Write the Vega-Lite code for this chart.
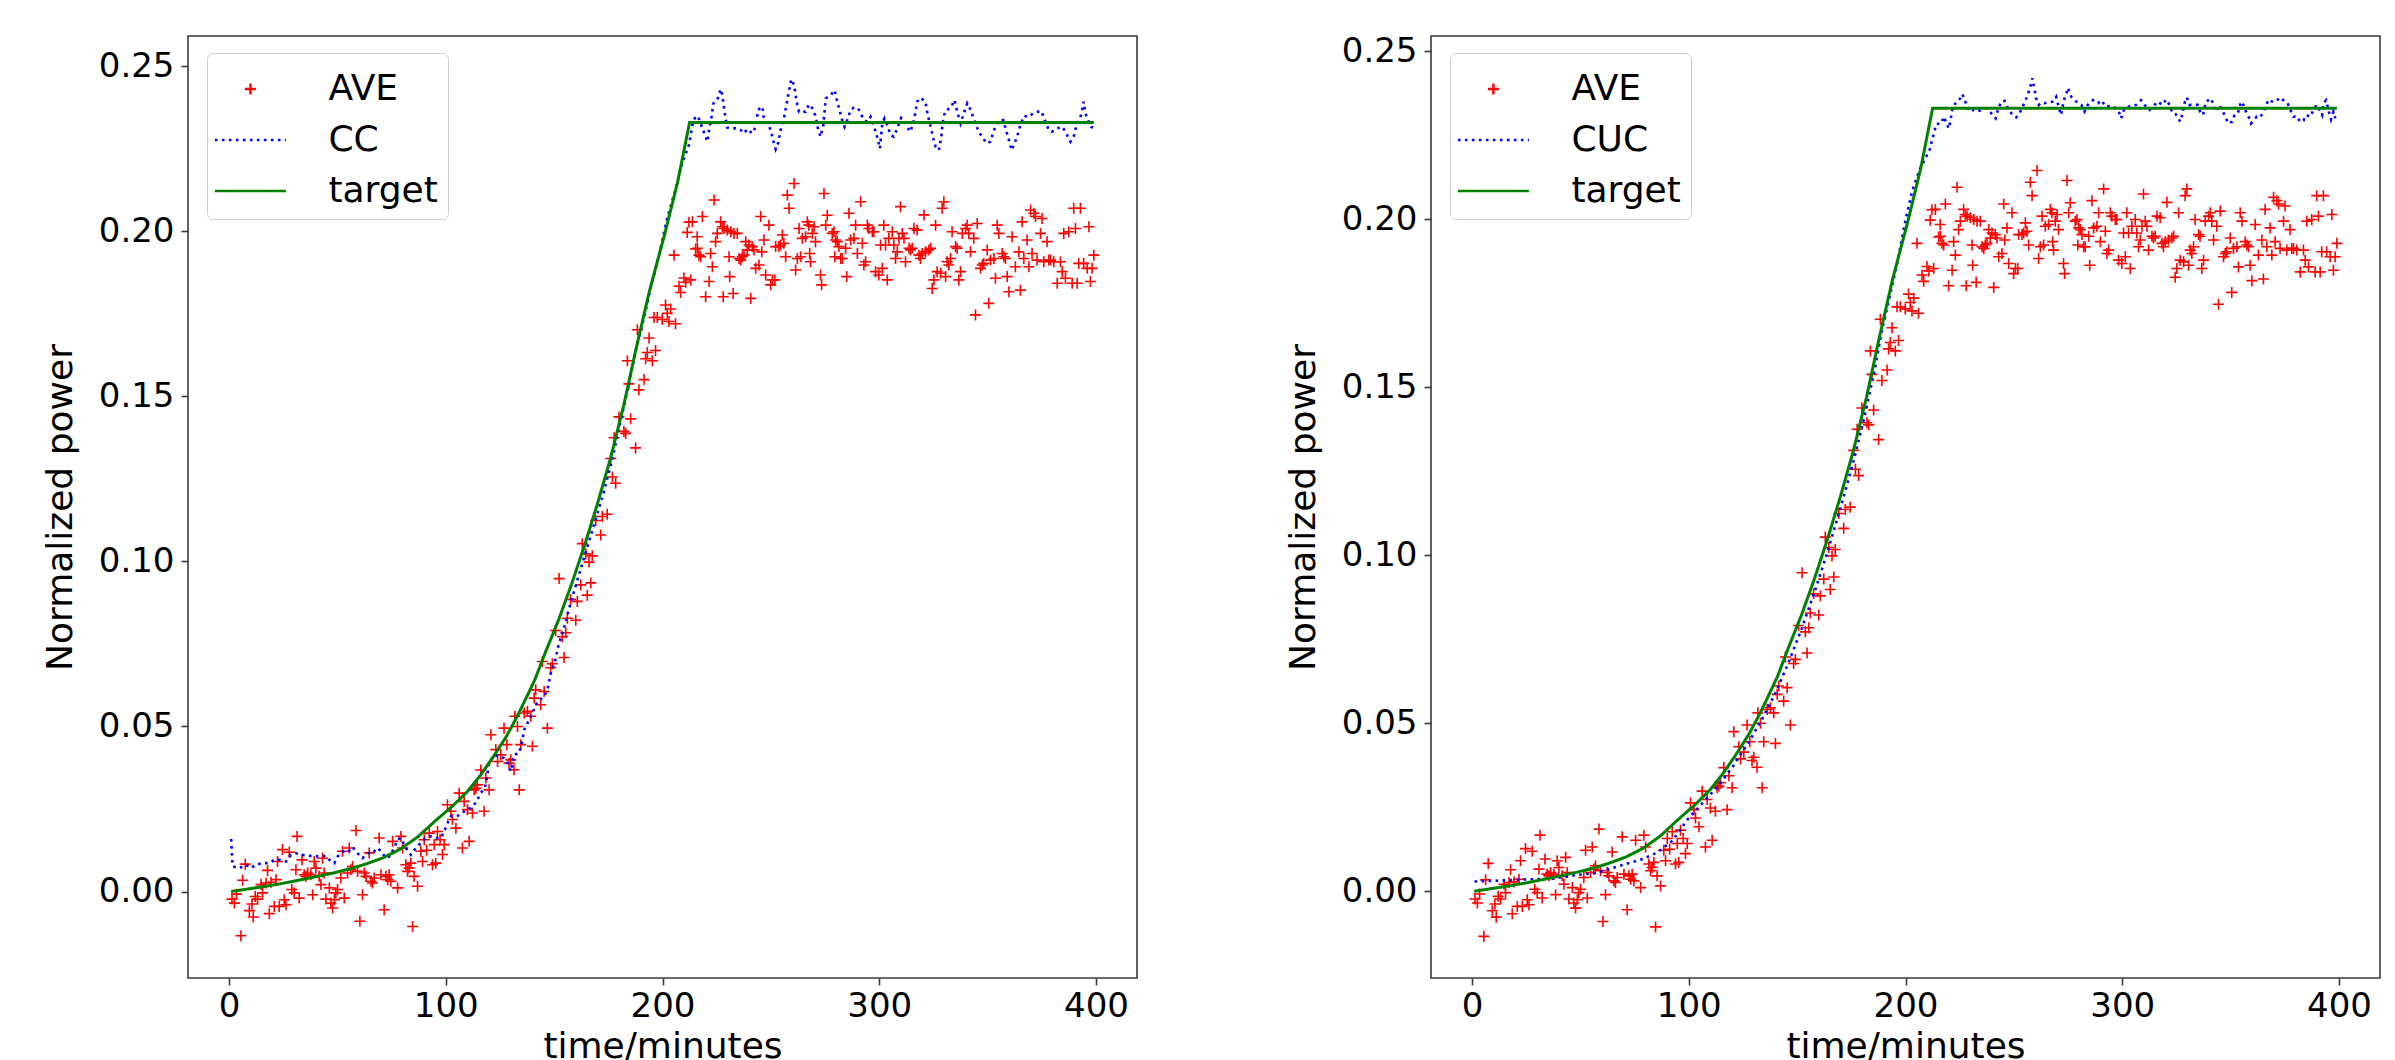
{
"$schema": "https://vega.github.io/schema/vega-lite/v6.json",
"background": "white",
"padding": {"left": 41, "top": 33, "right": 5, "bottom": 0},
"spacing": 146,
"config": {
 "font": "DejaVu Sans",
 "view": {"stroke": "#3a3a3a", "strokeWidth": 1.6},
 "axis": {"grid": false, "domain": false, "tickColor": "#3a3a3a", "tickSize": 7, "tickWidth": 1.6, "labelFont": "DejaVu Sans", "labelFontSize": 34, "labelColor": "black", "labelFlush": false, "labelOverlap": false, "titleFont": "DejaVu Sans", "titleFontSize": 36, "titleFontWeight": "normal", "titleColor": "black"},
 "axisX": {"labelPadding": 4, "titlePadding": 6},
 "axisY": {"labelPadding": 7, "titlePadding": 19},
 "legend": {"orient": "none", "legendX": 19, "legendY": 17, "title": null, "symbolSize": 2500, "symbolStrokeWidth": 2.4, "symbolOffset": 7.4, "labelOffset": 51.5, "labelFont": "DejaVu Sans", "labelFontSize": 36, "labelColor": "black", "rowPadding": 6, "padding": 9.5, "strokeColor": "#cccccc", "fillColor": "white", "cornerRadius": 6, "symbolOpacity": 1}
},
"datasets": {
 "ave": [
{"t":1.4,"v":-0.0023},{"t":2.5,"v":-0.0035},{"t":3.5,"v":-0.0008},{"t":5.5,"v":-0.0134},{"t":6.3,"v":0.0034},{"t":7.5,"v":0.0083},{"t":9.4,"v":-0.0058},{"t":10.6,"v":-0.0038},{"t":11.2,"v":-0.0077},{"t":12.1,"v":-0.0015},{"t":13.2,"v":-0.0023},{"t":14.8,"v":0.0021},{"t":15.5,"v":-0.0004},{"t":17.1,"v":0.0026},{"t":17.8,"v":0.0064},{"t":18.6,"v":-0.0067},{"t":19.4,"v":0.0028},{"t":20.9,"v":-0.0045},{"t":21.7,"v":0.0036},{"t":22.4,"v":0.0091},{"t":23.2,"v":-0.0045},{"t":24.7,"v":0.0127},{"t":25.5,"v":-0.0025},{"t":26.3,"v":-0.004},{"t":27.8,"v":0.0119},{"t":29.0,"v":0.0006},{"t":30.1,"v":-0.0004},{"t":30.9,"v":0.0066},{"t":31.4,"v":0.0167},{"t":32.4,"v":-0.002},{"t":33.7,"v":0.0096},{"t":34.7,"v":0.0051},{"t":35.5,"v":0.0046},{"t":36.3,"v":0.0056},{"t":37.8,"v":0.0051},{"t":38.6,"v":-0.001},{"t":39.3,"v":0.0091},{"t":40.1,"v":0.0071},{"t":41.6,"v":0.0046},{"t":42.4,"v":0.0021},{"t":43.2,"v":0.0101},{"t":43.9,"v":0.0056},{"t":44.7,"v":-0.0023},{"t":46.3,"v":0.0011},{"t":47.0,"v":-0.0035},{"t":47.8,"v":-0.005},{"t":48.6,"v":-0.0025},{"t":49.3,"v":-0.0004},{"t":50.1,"v":0.0006},{"t":51.6,"v":0.0041},{"t":52.4,"v":0.0122},{"t":53.2,"v":-0.002},{"t":54.7,"v":0.0056},{"t":55.5,"v":0.0132},{"t":56.2,"v":0.0066},{"t":57.0,"v":0.0076},{"t":58.6,"v":0.0185},{"t":59.3,"v":0.0061},{"t":60.4,"v":-0.009},{"t":61.6,"v":-0.001},{"t":62.4,"v":0.0056},{"t":63.2,"v":0.0046},{"t":64.7,"v":0.0117},{"t":65.5,"v":0.0031},{"t":66.2,"v":0.0026},{"t":67.0,"v":0.0041},{"t":69.3,"v":0.0162},{"t":70.1,"v":0.0051},{"t":71.6,"v":-0.0055},{"t":72.4,"v":0.0046},{"t":73.2,"v":0.0036},{"t":73.9,"v":0.0051},{"t":74.7,"v":0.0031},{"t":75.5,"v":0.0152},{"t":77.8,"v":0.0011},{"t":79.3,"v":0.0167},{"t":80.1,"v":0.0132},{"t":81.6,"v":0.0081},{"t":82.4,"v":0.0061},{"t":83.1,"v":0.0071},{"t":83.9,"v":0.0086},{"t":84.7,"v":-0.0106},{"t":85.4,"v":0.0046},
{"t":87.0,"v":0.0016},{"t":88.5,"v":0.0122},{"t":89.3,"v":0.0091},{"t":90.1,"v":0.0157},{"t":91.2,"v":0.0125},{"t":92.4,"v":0.0177},{"t":93.9,"v":0.0081},{"t":94.7,"v":0.0142},{"t":95.4,"v":0.0086},{"t":96.2,"v":0.0182},{"t":97.4,"v":0.0157},{"t":98.5,"v":0.0112},{"t":99.3,"v":0.0142},{"t":100.8,"v":0.0263},{"t":102.4,"v":0.0243},{"t":103.1,"v":0.0218},{"t":104.7,"v":0.0192},{"t":106.2,"v":0.0298},{"t":107.7,"v":0.0132},{"t":108.5,"v":0.0273},{"t":110.0,"v":0.0248},{"t":110.8,"v":0.0152},{"t":112.3,"v":0.0238},{"t":113.1,"v":0.0308},{"t":113.9,"v":0.0313},{"t":114.6,"v":0.0323},{"t":116.2,"v":0.0368},{"t":117.7,"v":0.0243},{"t":118.5,"v":0.0344},{"t":120.0,"v":0.0308},{"t":120.8,"v":0.0475},{"t":123.1,"v":0.043},{"t":123.9,"v":0.0394},{"t":125.4,"v":0.0414},{"t":126.9,"v":0.0495},{"t":128.2,"v":0.0445},{"t":129.2,"v":0.0389},{"t":130.0,"v":0.0399},{"t":131.5,"v":0.0369},{"t":131.9,"v":0.0531},{"t":133.1,"v":0.05},{"t":133.9,"v":0.0308},{"t":134.6,"v":0.0445},{"t":136.2,"v":0.0541},{"t":137.7,"v":0.0546},{"t":139.2,"v":0.0531},{"t":140.0,"v":0.044},{"t":140.8,"v":0.0586},{"t":141.5,"v":0.0611},{"t":143.8,"v":0.0566},{"t":145.4,"v":0.0606},{"t":146.9,"v":0.0495},
{"t":144.6,"v":0.0697},{"t":148.4,"v":0.0678},{"t":149.2,"v":0.069},{"t":154.6,"v":0.0709},{"t":150.7,"v":0.0791},{"t":153.8,"v":0.0772},{"t":155.4,"v":0.0784},{"t":157.6,"v":0.0885},{"t":160.7,"v":0.0879},{"t":160.0,"v":0.0822},{"t":156.1,"v":0.0828},{"t":152.3,"v":0.0948},{"t":162.3,"v":0.0929},{"t":166.9,"v":0.0935},{"t":165.3,"v":0.0898},{"t":163.0,"v":0.1054},{"t":167.6,"v":0.1017},{"t":166.1,"v":0.0998},{"t":164.6,"v":0.1023},{"t":171.5,"v":0.108},{"t":169.2,"v":0.1124},{"t":174.5,"v":0.1143},{"t":172.2,"v":0.1136},{"t":176.9,"v":0.1256},{"t":178.4,"v":0.1237},{"t":176.1,"v":0.1312},{"t":182.2,"v":0.1394},{"t":183.0,"v":0.1388},{"t":187.6,"v":0.1344},{"t":177.7,"v":0.1375},{"t":185.3,"v":0.1432},{"t":179.9,"v":0.1438},{"t":183.8,"v":0.1608},{"t":189.1,"v":0.152},{"t":184.5,"v":0.1538},{"t":191.5,"v":0.1551},{"t":188.4,"v":0.1702},{"t":193.8,"v":0.1677},{"t":192.2,"v":0.1614},{"t":195.3,"v":0.1608},{"t":196.8,"v":0.1639},{"t":193.0,"v":0.1633},{"t":197.6,"v":0.1739},{"t":199.9,"v":0.1733},{"t":203.0,"v":0.1727},{"t":206.0,"v":0.172},{"t":203.8,"v":0.1765},{"t":201.4,"v":0.1777},{"t":202.2,"v":0.1752},{"t":196.1,"v":0.1739},{"t":208.4,"v":0.1815},{"t":210.7,"v":0.1846},{"t":209.9,"v":0.1859},{"t":207.6,"v":0.1834},{"t":205.3,"v":0.1928},{"t":212.2,"v":0.2028},{"t":211.4,"v":0.1997},{"t":215.3,"v":0.1947},{"t":216.0,"v":0.1984},{"t":216.8,"v":0.1928},
{"t":213.8,"v":0.2029},{"t":213.0,"v":0.1853},{"t":216.1,"v":0.1949},{"t":218.4,"v":0.2045},{"t":217.6,"v":0.1923},{"t":223.8,"v":0.2095},{"t":222.2,"v":0.1933},{"t":221.5,"v":0.1848},{"t":219.9,"v":0.1802},{"t":223.0,"v":0.1893},{"t":224.5,"v":0.1969},{"t":225.3,"v":0.1994},{"t":226.8,"v":0.2029},{"t":227.6,"v":0.2014},{"t":228.4,"v":0.2009},{"t":229.9,"v":0.2004},{"t":231.5,"v":0.1999},{"t":233.0,"v":0.1994},{"t":234.5,"v":0.1994},{"t":228.0,"v":0.1802},{"t":232.6,"v":0.1812},{"t":231.0,"v":0.1863},{"t":230.7,"v":0.1923},{"t":235.3,"v":0.1918},{"t":236.8,"v":0.1923},{"t":237.6,"v":0.1928},{"t":236.1,"v":0.1913},{"t":238.4,"v":0.1969},{"t":239.9,"v":0.1959},{"t":241.4,"v":0.1954},{"t":242.2,"v":0.1944},{"t":239.1,"v":0.1944},{"t":240.7,"v":0.1797},{"t":243.0,"v":0.1888},{"t":244.5,"v":0.1898},{"t":245.3,"v":0.2045},{"t":246.8,"v":0.1974},{"t":247.6,"v":0.1868},{"t":249.1,"v":0.2019},{"t":249.9,"v":0.1838},{"t":250.7,"v":0.1853},{"t":251.8,"v":0.1853},{"t":245.8,"v":0.1938},{"t":252.2,"v":0.1954},{"t":253.7,"v":0.1954},{"t":255.3,"v":0.1989},{"t":256.8,"v":0.1923},{"t":256.0,"v":0.1964},{"t":254.5,"v":0.1959},{"t":257.6,"v":0.211},{"t":258.4,"v":0.207},{"t":260.7,"v":0.2145},{"t":261.4,"v":0.1883},{"t":262.2,"v":0.1918},{"t":263.0,"v":0.2009},{"t":263.7,"v":0.1923},{"t":264.5,"v":0.1979},{"t":266.0,"v":0.1984},{"t":266.8,"v":0.2029},{"t":267.5,"v":0.2019},{"t":269.1,"v":0.1994},{"t":269.9,"v":0.2014},{"t":270.6,"v":0.1969},{"t":267.9,"v":0.1933},{"t":268.3,"v":0.1908},{"t":272.9,"v":0.1868},{"t":273.4,"v":0.1838},{"t":274.5,"v":0.2115},{"t":275.3,"v":0.2019},{"t":276.0,"v":0.2049},{"t":278.3,"v":0.1994},{"t":279.1,"v":0.1999},{"t":279.9,"v":0.1974},{"t":280.6,"v":0.1969},{"t":281.4,"v":0.1954},{"t":282.2,"v":0.1918},{"t":279.5,"v":0.1923},{"t":282.9,"v":0.1918},{"t":284.5,"v":0.1949},{"t":285.0,"v":0.1863},{"t":286.0,"v":0.2055},{"t":286.8,"v":0.1974},{"t":288.3,"v":0.1979},{"t":289.1,"v":0.2019},{"t":289.9,"v":0.1933},{"t":291.4,"v":0.209},{"t":292.2,"v":0.1964},{"t":292.9,"v":0.1898},{"t":293.7,"v":0.1908},{"t":294.5,"v":0.2019},{"t":295.2,"v":0.2009},{"t":296.8,"v":0.1999},{"t":297.5,"v":0.1999},{"t":298.3,"v":0.1878},{"t":299.8,"v":0.1868},{"t":300.6,"v":0.1959},
{"t":301.4,"v":0.1888},{"t":302.1,"v":0.2019},{"t":302.9,"v":0.1959},{"t":303.7,"v":0.1853},{"t":304.4,"v":0.1979},{"t":306.0,"v":0.1999},{"t":306.7,"v":0.1959},{"t":307.5,"v":0.1918},{"t":308.3,"v":0.1938},{"t":309.1,"v":0.1979},{"t":309.8,"v":0.2075},{"t":310.6,"v":0.1994},{"t":311.4,"v":0.1979},{"t":312.1,"v":0.1908},{"t":313.7,"v":0.1949},{"t":314.4,"v":0.1944},{"t":315.2,"v":0.1949},{"t":316.0,"v":0.2009},{"t":317.5,"v":0.2004},{"t":318.3,"v":0.1928},{"t":319.0,"v":0.1918},{"t":319.8,"v":0.1933},{"t":320.6,"v":0.205},{"t":321.3,"v":0.1938},{"t":322.9,"v":0.1944},{"t":323.7,"v":0.1949},{"t":324.4,"v":0.1827},{"t":325.2,"v":0.1853},{"t":326.0,"v":0.2019},{"t":326.7,"v":0.1878},{"t":328.3,"v":0.1873},{"t":329.0,"v":0.207},{"t":329.8,"v":0.209},{"t":330.6,"v":0.1863},{"t":331.3,"v":0.1908},{"t":332.1,"v":0.1898},{"t":332.9,"v":0.1918},{"t":333.6,"v":0.1999},{"t":335.2,"v":0.1954},{"t":335.9,"v":0.1949},{"t":336.7,"v":0.1853},{"t":337.5,"v":0.1878},{"t":338.3,"v":0.1994},{"t":339.8,"v":0.2009},{"t":340.6,"v":0.2019},{"t":341.3,"v":0.1994},{"t":342.1,"v":0.1938},{"t":343.6,"v":0.1979},{"t":344.4,"v":0.1747},{"t":345.2,"v":0.2024},{"t":346.7,"v":0.1888},{"t":347.5,"v":0.1898},{"t":348.2,"v":0.1903},{"t":349.8,"v":0.1944},{"t":350.5,"v":0.1782},{"t":351.3,"v":0.1913},{"t":352.9,"v":0.1918},{"t":353.6,"v":0.1858},{"t":354.4,"v":0.2019},{"t":355.2,"v":0.1994},{"t":356.7,"v":0.1933},{"t":357.5,"v":0.1923},{"t":358.2,"v":0.1918},{"t":359.0,"v":0.1863},{"t":359.8,"v":0.1817},{"t":361.3,"v":0.1984},{"t":362.8,"v":0.1893},{"t":364.4,"v":0.1938},{"t":365.1,"v":0.1822},{"t":365.9,"v":0.2029},{"t":366.7,"v":0.1918},{"t":368.2,"v":0.1974},{"t":369.0,"v":0.1893},{"t":369.8,"v":0.2065},{"t":370.5,"v":0.1933},{"t":371.3,"v":0.2055},{"t":372.1,"v":0.2045},{"t":372.8,"v":0.1913},{"t":374.4,"v":0.1994},{"t":375.1,"v":0.2039},{"t":375.9,"v":0.1908},{"t":377.4,"v":0.1969},{"t":378.2,"v":0.1913},{"t":379.0,"v":0.1913},{"t":380.5,"v":0.1908},{"t":382.1,"v":0.1843},{"t":383.6,"v":0.1908},{"t":384.4,"v":0.1878},{"t":385.1,"v":0.1994},{"t":385.9,"v":0.1858},{"t":387.4,"v":0.1999},{"t":389.0,"v":0.1843},{"t":389.7,"v":0.207},{"t":390.5,"v":0.2009},{"t":391.3,"v":0.1843},{"t":392.0,"v":0.1903},{"t":392.8,"v":0.207},{"t":394.3,"v":0.1903},{"t":395.9,"v":0.1888},{"t":396.7,"v":0.2014},{"t":397.4,"v":0.1848},{"t":398.2,"v":0.1888},{"t":399.0,"v":0.1928}
 ],
 "target": [
{"t":1,"v":0},{"t":10,"v":0.0009},{"t":17,"v":0.0016},{"t":25,"v":0.0025},{"t":32,"v":0.0034},{"t":40,"v":0.0045},{"t":48,"v":0.0056},{"t":56,"v":0.0069},{"t":63,"v":0.0083},{"t":71,"v":0.0102},{"t":79,"v":0.0128},{"t":87,"v":0.0165},{"t":95,"v":0.0213},{"t":103,"v":0.0258},{"t":110,"v":0.0303},{"t":116,"v":0.0352},{"t":122,"v":0.0409},{"t":128,"v":0.047},{"t":133,"v":0.0531},{"t":137,"v":0.0585},{"t":141,"v":0.064},{"t":146,"v":0.0725},{"t":152,"v":0.0822},{"t":158,"v":0.093},{"t":164,"v":0.1048},{"t":170,"v":0.1175},{"t":176,"v":0.1312},{"t":182,"v":0.147},{"t":188,"v":0.165},{"t":194,"v":0.182},{"t":201,"v":0.1991},{"t":207,"v":0.215},{"t":212.5,"v":0.233},{"t":399,"v":0.233}
 ],
 "cc": [
{"t":1,"v":0.0159},{"t":1.7,"v":0.0076},{"t":4.8,"v":0.0071},{"t":7.8,"v":0.0081},{"t":10.1,"v":0.0071},{"t":12.4,"v":0.0081},{"t":15.5,"v":0.0086},{"t":18.6,"v":0.0086},{"t":20.9,"v":0.0096},{"t":24,"v":0.0096},{"t":26.3,"v":0.0091},{"t":28.6,"v":0.0111},{"t":30.9,"v":0.0116},{"t":34,"v":0.0111},{"t":36.3,"v":0.0108},{"t":39.3,"v":0.0108},{"t":41.6,"v":0.0106},{"t":44.7,"v":0.0108},{"t":46.3,"v":0.0096},{"t":48.6,"v":0.0086},{"t":50.1,"v":0.0106},{"t":52.4,"v":0.0121},{"t":54.7,"v":0.0118},{"t":57,"v":0.0135},{"t":59.3,"v":0.0116},{"t":61.6,"v":0.0101},{"t":63.9,"v":0.0116},{"t":66.2,"v":0.0116},{"t":68.5,"v":0.0132},{"t":70.1,"v":0.0122},{"t":72.4,"v":0.0101},{"t":73.9,"v":0.0106},{"t":76.2,"v":0.0132},{"t":77.8,"v":0.0157},{"t":79.3,"v":0.0162},{"t":81.6,"v":0.0132},{"t":83.9,"v":0.0111},{"t":86.2,"v":0.0132},{"t":88.5,"v":0.0147},{"t":90.8,"v":0.0163},{"t":93.1,"v":0.0167},{"t":95.4,"v":0.0162},{"t":97.7,"v":0.0162},{"t":99.3,"v":0.0182},{"t":100.8,"v":0.0207},{"t":102.4,"v":0.0228},{"t":104.7,"v":0.0228},{"t":107,"v":0.0233},{"t":109.3,"v":0.0248},{"t":111.6,"v":0.0253},{"t":113.1,"v":0.0263},{"t":114.6,"v":0.0278},{"t":116.2,"v":0.0298},{"t":118.5,"v":0.0323},{"t":120,"v":0.0389},{"t":122.3,"v":0.0414},{"t":124.6,"v":0.0409},{"t":126.9,"v":0.0404},{"t":128.5,"v":0.0389},{"t":130,"v":0.0364},{"t":131.5,"v":0.0414},{"t":133.9,"v":0.0419},{"t":135.4,"v":0.046},{"t":136.2,"v":0.049},{"t":137.7,"v":0.051},{"t":140,"v":0.0541},{"t":142.3,"v":0.0576},{"t":145.4,"v":0.0591},{"t":146.9,"v":0.0611},{"t":147.7,"v":0.0637},{"t":148.5,"v":0.0662},{"t":150.5,"v":0.07},{"t":152,"v":0.0745},{"t":154.6,"v":0.08},{"t":157,"v":0.086},{"t":159.2,"v":0.091},{"t":163.8,"v":0.1011},{"t":168.4,"v":0.1111},{"t":173,"v":0.1212},{"t":176.9,"v":0.1312},{"t":180.7,"v":0.1425},{"t":184.5,"v":0.1538},{"t":187.6,"v":0.1639},{"t":191.5,"v":0.1739},{"t":194.5,"v":0.1827},{"t":198.4,"v":0.1928},{"t":202.2,"v":0.2041},{"t":206.1,"v":0.2129},{"t":208.4,"v":0.2191},{"t":209.9,"v":0.2221},{"t":212.2,"v":0.2262},{"t":213.8,"v":0.2322},{"t":215.3,"v":0.235},{"t":216.9,"v":0.234},{"t":218.4,"v":0.2312},{"t":219.9,"v":0.2287},{"t":220.7,"v":0.2272},{"t":221.5,"v":0.2307},{"t":222.5,"v":0.2342},{"t":223.5,"v":0.2388},{"t":225.3,"v":0.2398},{"t":226.8,"v":0.2431},{"t":227.6,"v":0.2413},{"t":228.4,"v":0.2373},{"t":229.1,"v":0.2342},{"t":229.9,"v":0.2314},{"t":231.5,"v":0.2312},{"t":233.8,"v":0.2312},{"t":236.1,"v":0.2307},{"t":237.6,"v":0.2297},{"t":239.1,"v":0.231},{"t":241.4,"v":0.2297},{"t":243,"v":0.2317},{"t":244.1,"v":0.2368},{"t":246.1,"v":0.2378},{"t":246.8,"v":0.2337},{"t":249.1,"v":0.2322},{"t":250.7,"v":0.2287},{"t":251.4,"v":0.2267},{"t":252.2,"v":0.2249},{"t":253.3,"v":0.2267},{"t":254.5,"v":0.2307},{"t":256,"v":0.2342},{"t":257.3,"v":0.2388},{"t":258.4,"v":0.2428},{"t":259.4,"v":0.2461},{"t":260.7,"v":0.2443},{"t":261.4,"v":0.2413},{"t":262.2,"v":0.2383},{"t":263,"v":0.2362},{"t":264.5,"v":0.2365},{"t":266,"v":0.2362},{"t":267.6,"v":0.2385},{"t":269.1,"v":0.2373},{"t":270.6,"v":0.235},{"t":271.7,"v":0.2312},{"t":272.9,"v":0.2287},{"t":274.2,"v":0.2322},{"t":275.3,"v":0.2403},{"t":277.6,"v":0.2413},{"t":279.4,"v":0.2428},{"t":280.6,"v":0.2393},{"t":281.9,"v":0.2362},{"t":282.9,"v":0.2337},{"t":284,"v":0.2317},{"t":285.2,"v":0.2337},{"t":286.8,"v":0.2368},{"t":288.3,"v":0.2375},{"t":290.2,"v":0.2373},{"t":291.4,"v":0.2358},{"t":292.9,"v":0.2337},{"t":294.5,"v":0.2332},{"t":296,"v":0.2347},{"t":297.2,"v":0.2327},{"t":298.3,"v":0.2302},{"t":299.4,"v":0.2277},{"t":300.3,"v":0.2251},{"t":301.4,"v":0.2327},{"t":302.4,"v":0.2342},{"t":303.7,"v":0.2322},{"t":305.2,"v":0.2292},{"t":306.7,"v":0.2287},{"t":308,"v":0.2307},{"t":309.1,"v":0.2327},{"t":310.1,"v":0.2344},{"t":311.4,"v":0.2337},{"t":312.6,"v":0.2322},{"t":314.1,"v":0.2302},{"t":315.2,"v":0.2317},{"t":316,"v":0.2337},{"t":316.7,"v":0.2362},{"t":317.5,"v":0.2393},{"t":319,"v":0.2405},{"t":321.3,"v":0.2393},{"t":322.4,"v":0.2352},{"t":323.7,"v":0.2317},{"t":324.9,"v":0.2282},{"t":326,"v":0.2257},{"t":327.5,"v":0.2246},{"t":328.6,"v":0.2287},{"t":329.5,"v":0.2342},{"t":330.6,"v":0.2367},{"t":332.9,"v":0.2373},{"t":334.7,"v":0.2398},{"t":336,"v":0.2362},{"t":337.5,"v":0.2327},{"t":339,"v":0.2358},{"t":340.6,"v":0.2388},{"t":341.8,"v":0.2373},{"t":343.3,"v":0.2347},{"t":344.9,"v":0.2317},{"t":346.4,"v":0.2297},{"t":347.9,"v":0.2282},{"t":349.5,"v":0.2267},{"t":351.3,"v":0.2272},{"t":352.9,"v":0.2307},{"t":355.2,"v":0.2337},{"t":357.2,"v":0.2337},{"t":358.7,"v":0.2302},{"t":359.8,"v":0.2277},{"t":361,"v":0.2246},{"t":362.1,"v":0.2262},{"t":363.6,"v":0.2287},{"t":365.1,"v":0.2322},{"t":366.7,"v":0.235},{"t":369,"v":0.2347},{"t":371,"v":0.2358},{"t":372.8,"v":0.2362},{"t":374.7,"v":0.2365},{"t":376.7,"v":0.2332},{"t":378.2,"v":0.2307},{"t":379.7,"v":0.2302},{"t":382.1,"v":0.2312},{"t":384.4,"v":0.2317},{"t":385.9,"v":0.2302},{"t":387,"v":0.2287},{"t":388.2,"v":0.2272},{"t":389.7,"v":0.2287},{"t":391,"v":0.2322},{"t":392.5,"v":0.2337},{"t":393.6,"v":0.2368},{"t":394.3,"v":0.2393},{"t":395.1,"v":0.2358},{"t":396.6,"v":0.2332},{"t":397.7,"v":0.2317},{"t":398.6,"v":0.2314}
 ],
 "cuc": [
{"t":1.2,"v":0.0029},{"t":10,"v":0.0031},{"t":22.2,"v":0.0035},{"t":36.3,"v":0.0037},{"t":46.8,"v":0.0047},{"t":57.3,"v":0.0055},{"t":67.9,"v":0.0075},{"t":78.4,"v":0.0095},{"t":85.4,"v":0.0115},{"t":92.4,"v":0.015},{"t":99.5,"v":0.0214},{"t":106.5,"v":0.0264},{"t":113.5,"v":0.0313},{"t":120.5,"v":0.0373},{"t":127.5,"v":0.0442},{"t":134.6,"v":0.0521},{"t":140,"v":0.059},{"t":146,"v":0.068},{"t":152,"v":0.078},{"t":158,"v":0.089},{"t":164,"v":0.101},{"t":170,"v":0.114},{"t":176,"v":0.128},{"t":181,"v":0.141},{"t":185.8,"v":0.1552},{"t":189.2,"v":0.1671},{"t":192.7,"v":0.177},{"t":196.2,"v":0.1869},{"t":199.7,"v":0.1988},{"t":203.2,"v":0.2087},{"t":206.7,"v":0.215},{"t":209.5,"v":0.2185},{"t":211.1,"v":0.2206},{"t":211.9,"v":0.2226},{"t":213.4,"v":0.2263},{"t":214.2,"v":0.2283},{"t":216.5,"v":0.2285},{"t":217.6,"v":0.2305},{"t":218.8,"v":0.2287},{"t":220,"v":0.227},{"t":221.1,"v":0.2307},{"t":221.9,"v":0.2335},{"t":223.1,"v":0.2345},{"t":224.2,"v":0.2354},{"t":225.3,"v":0.2359},{"t":226.2,"v":0.2372},{"t":227.3,"v":0.2354},{"t":228.4,"v":0.2337},{"t":229.6,"v":0.232},{"t":231.1,"v":0.2325},{"t":233,"v":0.232},{"t":235,"v":0.2325},{"t":237.3,"v":0.233},{"t":239.6,"v":0.2315},{"t":241.6,"v":0.23},{"t":242.6,"v":0.2325},{"t":244.2,"v":0.235},{"t":245.7,"v":0.2352},{"t":247.3,"v":0.233},{"t":248.8,"v":0.2315},{"t":251.1,"v":0.2303},{"t":252.6,"v":0.2315},{"t":254.2,"v":0.2337},{"t":255.7,"v":0.2359},{"t":257,"v":0.2382},{"t":258,"v":0.2404},{"t":258.5,"v":0.2419},{"t":259.1,"v":0.2399},{"t":260.3,"v":0.2359},{"t":261.5,"v":0.234},{"t":262.6,"v":0.2347},{"t":264.2,"v":0.2345},{"t":265.7,"v":0.2347},{"t":268,"v":0.235},{"t":269.5,"v":0.2364},{"t":270.8,"v":0.233},{"t":271.8,"v":0.231},{"t":272.9,"v":0.235},{"t":274.2,"v":0.2374},{"t":274.9,"v":0.2391},{"t":276.5,"v":0.2364},{"t":278.8,"v":0.235},{"t":281.1,"v":0.234},{"t":282.6,"v":0.232},{"t":284.1,"v":0.234},{"t":286.4,"v":0.2354},{"t":288.8,"v":0.2345},{"t":290.3,"v":0.2354},{"t":292.3,"v":0.2335},{"t":294.9,"v":0.2337},{"t":297.2,"v":0.233},{"t":298.7,"v":0.2315},{"t":299.5,"v":0.23},{"t":301,"v":0.233},{"t":303.3,"v":0.2335},{"t":306.4,"v":0.234},{"t":308.7,"v":0.2354},{"t":310.3,"v":0.234},{"t":312.6,"v":0.2325},{"t":314.9,"v":0.234},{"t":316.4,"v":0.235},{"t":318.4,"v":0.234},{"t":320.3,"v":0.2356},{"t":321.8,"v":0.234},{"t":323,"v":0.2317},{"t":324.6,"v":0.2313},{"t":325.6,"v":0.2303},{"t":326.7,"v":0.229},{"t":327.6,"v":0.231},{"t":328.7,"v":0.2345},{"t":329.8,"v":0.2362},{"t":331,"v":0.234},{"t":333.3,"v":0.234},{"t":334.8,"v":0.234},{"t":335.9,"v":0.232},{"t":337.2,"v":0.231},{"t":338.7,"v":0.235},{"t":341,"v":0.2359},{"t":342.1,"v":0.234},{"t":343.3,"v":0.232},{"t":344.8,"v":0.234},{"t":346.4,"v":0.232},{"t":347.6,"v":0.2305},{"t":348.8,"v":0.2285},{"t":350.7,"v":0.229},{"t":351.8,"v":0.231},{"t":353.3,"v":0.2315},{"t":354.8,"v":0.235},{"t":355.9,"v":0.234},{"t":357.1,"v":0.232},{"t":358.4,"v":0.2303},{"t":359.4,"v":0.2285},{"t":360.5,"v":0.2293},{"t":362,"v":0.2305},{"t":363.6,"v":0.2303},{"t":365.1,"v":0.232},{"t":366.4,"v":0.234},{"t":367.6,"v":0.2356},{"t":369.1,"v":0.235},{"t":371,"v":0.235},{"t":372.5,"v":0.2362},{"t":374.3,"v":0.2354},{"t":376.3,"v":0.2345},{"t":377.9,"v":0.232},{"t":379,"v":0.2305},{"t":380.5,"v":0.2307},{"t":382,"v":0.229},{"t":383.6,"v":0.2293},{"t":384.8,"v":0.231},{"t":386.7,"v":0.2305},{"t":388.2,"v":0.2325},{"t":389.7,"v":0.234},{"t":391,"v":0.2325},{"t":392.2,"v":0.231},{"t":392.8,"v":0.2345},{"t":394,"v":0.2354},{"t":395.3,"v":0.232},{"t":396.3,"v":0.2297},{"t":397.4,"v":0.232},{"t":398.3,"v":0.23}
 ]
},
"resolve": {"scale": {"color": "independent", "shape": "independent", "strokeDash": "independent", "x": "independent", "y": "independent"}, "legend": {"color": "independent", "shape": "independent", "strokeDash": "independent"}},
"hconcat": [
 {
  "width": 949, "height": 942,
  "layer": [
   {"data": {"name": "ave"}, "mark": {"type": "point", "size": 2500, "filled": false, "strokeWidth": 1.6, "opacity": 1},
    "encoding": {
     "x": {"field": "t", "type": "quantitative", "scale": {"domain": [-18.9, 418.9], "nice": false, "zero": false}, "axis": {"values": [0, 100, 200, 300, 400], "format": "d"}, "title": "time/minutes"},
     "y": {"field": "v", "type": "quantitative", "scale": {"domain": [-0.0262, 0.2592], "nice": false, "zero": false}, "axis": {"values": [0, 0.05, 0.1, 0.15, 0.2, 0.25], "format": ".2f"}, "title": "Normalized power"},
     "color": {"datum": "AVE", "type": "nominal", "scale": {"domain": ["AVE", "CC", "target"], "range": ["#ff0000", "#0000ff", "#008000"]}},
     "shape": {"datum": "AVE", "type": "nominal", "scale": {"domain": ["AVE", "CC", "target"], "range": ["M-0.22,0H0.22M0,-0.22V0.22", "M-1.42,0H1.42", "M-1.42,0H1.42"]}}
    }},
   {"data": {"name": "cc"}, "mark": {"type": "line", "strokeWidth": 2.6, "strokeCap": "butt"},
    "encoding": {
     "x": {"field": "t", "type": "quantitative", "scale": {"domain": [-18.9, 418.9], "nice": false, "zero": false}},
     "y": {"field": "v", "type": "quantitative", "scale": {"domain": [-0.0262, 0.2592], "nice": false, "zero": false}},
     "color": {"datum": "CC", "type": "nominal"},
     "strokeDash": {"datum": "CC", "type": "nominal", "scale": {"domain": ["AVE", "CC", "target"], "range": [[1, 0], [2.6, 4.4], [1, 0]]}}
    }},
   {"data": {"name": "target"}, "mark": {"type": "line", "strokeWidth": 3},
    "encoding": {
     "x": {"field": "t", "type": "quantitative", "scale": {"domain": [-18.9, 418.9], "nice": false, "zero": false}},
     "y": {"field": "v", "type": "quantitative", "scale": {"domain": [-0.0262, 0.2592], "nice": false, "zero": false}},
     "color": {"datum": "target", "type": "nominal"},
     "strokeDash": {"datum": "target", "type": "nominal"}
    }}
  ]
 },
 {
  "width": 949, "height": 942,
  "layer": [
   {"data": {"name": "ave"}, "mark": {"type": "point", "size": 2500, "filled": false, "strokeWidth": 1.6, "opacity": 1},
    "encoding": {
     "x": {"field": "t", "type": "quantitative", "scale": {"domain": [-18.9, 418.9], "nice": false, "zero": false}, "axis": {"values": [0, 100, 200, 300, 400], "format": "d"}, "title": "time/minutes"},
     "y": {"field": "v", "type": "quantitative", "scale": {"domain": [-0.0258, 0.2545], "nice": false, "zero": false}, "axis": {"values": [0, 0.05, 0.1, 0.15, 0.2, 0.25], "format": ".2f"}, "title": "Normalized power"},
     "color": {"datum": "AVE", "type": "nominal", "scale": {"domain": ["AVE", "CUC", "target"], "range": ["#ff0000", "#0000ff", "#008000"]}},
     "shape": {"datum": "AVE", "type": "nominal", "scale": {"domain": ["AVE", "CUC", "target"], "range": ["M-0.22,0H0.22M0,-0.22V0.22", "M-1.42,0H1.42", "M-1.42,0H1.42"]}}
    }},
   {"data": {"name": "cuc"}, "mark": {"type": "line", "strokeWidth": 2.6, "strokeCap": "butt"},
    "encoding": {
     "x": {"field": "t", "type": "quantitative", "scale": {"domain": [-18.9, 418.9], "nice": false, "zero": false}},
     "y": {"field": "v", "type": "quantitative", "scale": {"domain": [-0.0258, 0.2545], "nice": false, "zero": false}},
     "color": {"datum": "CUC", "type": "nominal"},
     "strokeDash": {"datum": "CUC", "type": "nominal", "scale": {"domain": ["AVE", "CUC", "target"], "range": [[1, 0], [2.6, 4.4], [1, 0]]}}
    }},
   {"data": {"name": "target"}, "mark": {"type": "line", "strokeWidth": 3},
    "encoding": {
     "x": {"field": "t", "type": "quantitative", "scale": {"domain": [-18.9, 418.9], "nice": false, "zero": false}},
     "y": {"field": "v", "type": "quantitative", "scale": {"domain": [-0.0258, 0.2545], "nice": false, "zero": false}},
     "color": {"datum": "target", "type": "nominal"},
     "strokeDash": {"datum": "target", "type": "nominal"}
    }}
  ]
 }
]
}
